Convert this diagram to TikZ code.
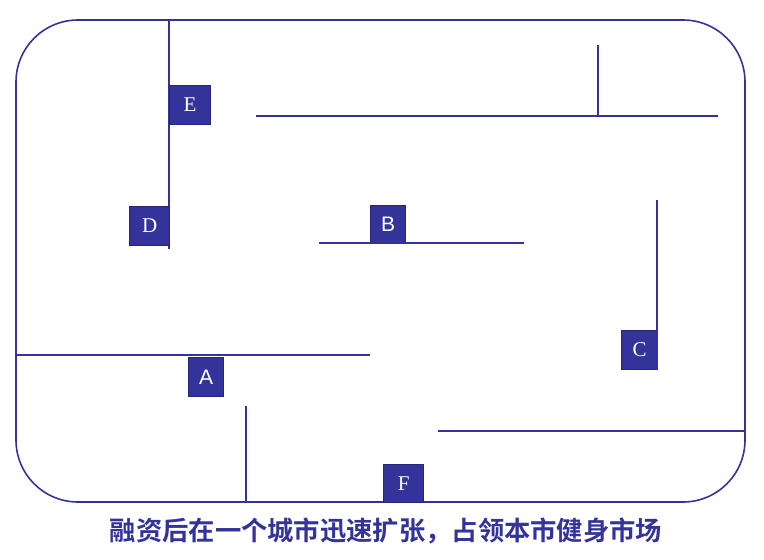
\documentclass[tikz,border=0pt]{standalone}
\usepackage{fontspec}
\setmainfont{Liberation Serif}
\newfontfamily\sansf{Liberation Sans}
\newfontfamily\cjk{Noto Sans CJK SC}[BoldFont={* Bold}]
\definecolor{navy}{HTML}{333399}
\definecolor{navyd}{HTML}{26267F}
\begin{document}
\begin{tikzpicture}[x=1pt,y=-1pt,
  wall/.style={draw=navy,line width=1.6pt},
  lbl/.style={fill=navy,draw=navyd,line width=1.2pt,text=white,inner sep=0pt,anchor=north west,font=\fontsize{21}{21}\selectfont},
  lbls/.style={lbl,font=\sansf\fontsize{21}{21}\selectfont}]
\useasboundingbox (0,0) rectangle (764,560);
\draw[wall,rounded corners=62pt] (16,20) rectangle (745,502);
% vertical at x=169
\coordinate (v1a) at (169,20); \coordinate (v1b) at (169,249);
\draw[wall] (v1a) -- (v1b);
\node[lbl,minimum width=41pt,minimum height=39pt] (E) at (169,85) {E};
\node[lbl,minimum width=40pt,minimum height=39pt] (D) at (129,206) {D};
% top right
\coordinate (h1a) at (256,116); \coordinate (h1b) at (718,116);
\coordinate (v2a) at (598,45); \coordinate (v2b) at (598,116);
\draw[wall] (h1a) -- (h1b);
\draw[wall] (v2a) -- (v2b);
% B
\coordinate (hBa) at (319,243); \coordinate (hBb) at (524,243);
\node[lbls,minimum width=35pt,minimum height=38pt] (B) at (370,205) {B};
\draw[wall] (hBa) -- (hBb);
% C
\coordinate (vCa) at (657,200); \coordinate (vCb) at (657,370);
\node[lbl,minimum width=36pt,minimum height=39pt] (C) at (621,330) {C};
\draw[wall] (vCa) -- (vCb);
% A
\coordinate (hAa) at (16,355); \coordinate (hAb) at (370,355);
\draw[wall] (hAa) -- (hAb);
\node[lbls,minimum width=35pt,minimum height=39pt] (A) at (188,357) {A};
% F
\coordinate (vFa) at (246,406); \coordinate (vFb) at (246,502);
\coordinate (hFa) at (438,431); \coordinate (hFb) at (745,431);
\draw[wall] (vFa) -- (vFb);
\draw[wall] (hFa) -- (hFb);
\node[lbl,minimum width=40pt,minimum height=38pt] (F) at (383,464) {F};
% caption
\node[text=navy,font=\cjk\bfseries\fontsize{26.3}{26}\selectfont,inner sep=0pt] (cap) at (386,531) {融资后在一个城市迅速扩张，占领本市健身市场};
\end{tikzpicture}
\end{document}
